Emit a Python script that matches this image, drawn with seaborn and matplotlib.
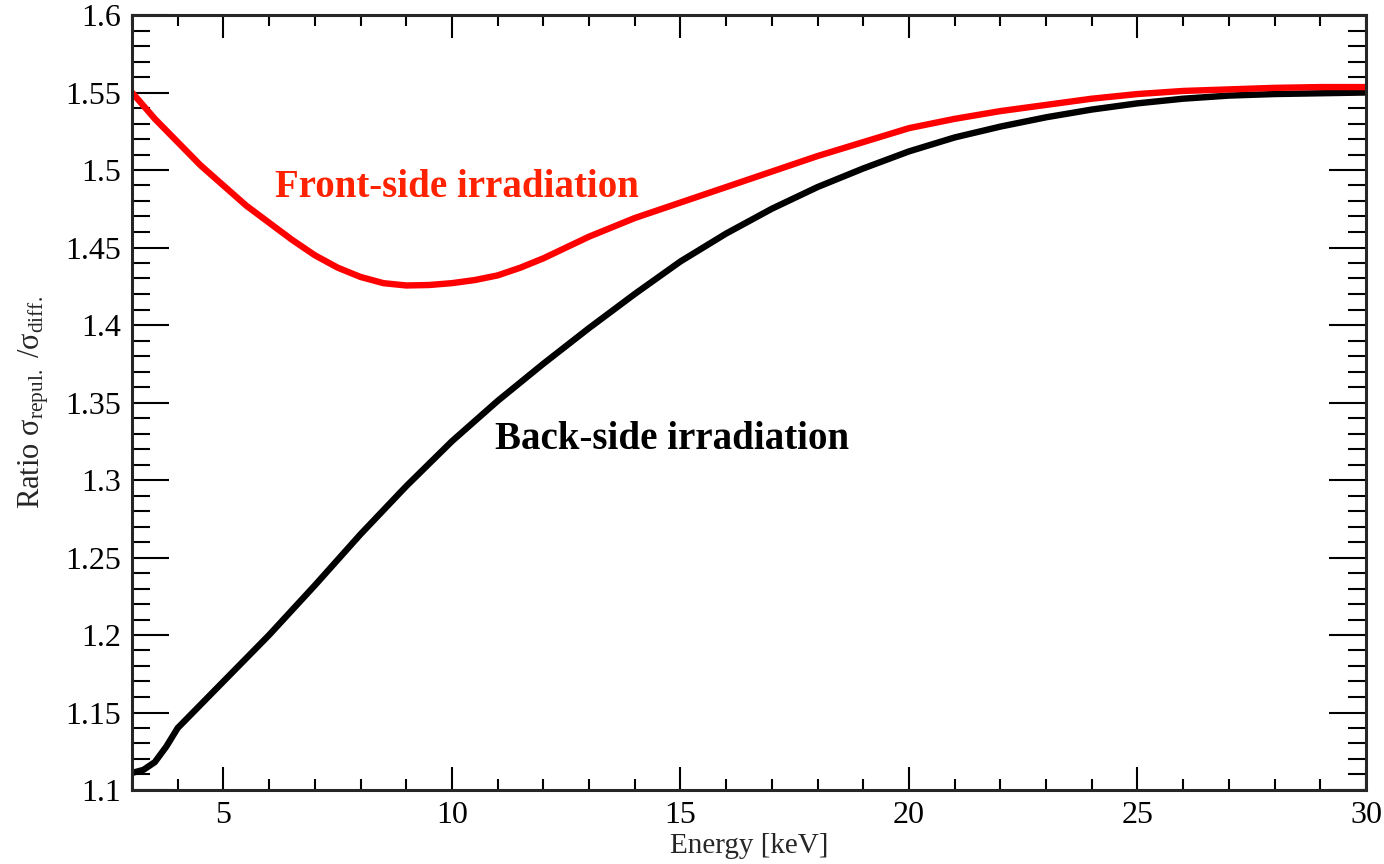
import matplotlib
matplotlib.use("Agg")
from matplotlib import pyplot as plt
from matplotlib.ticker import MultipleLocator
import seaborn as sns
import pandas as pd

# energy grid [keV] and ratios
energy_back = [3, 3.25, 3.5, 3.75, 4, 4.5, 5, 6, 7, 8, 9, 10, 11, 12, 13, 14, 15, 16, 17,
               18, 19, 20, 21, 22, 23, 24, 25, 26, 27, 28, 29, 30]
ratio_back = [1.111, 1.113, 1.118, 1.128, 1.140, 1.155, 1.170, 1.200, 1.232, 1.265,
              1.296, 1.325, 1.351, 1.375, 1.398, 1.420, 1.441, 1.459, 1.475, 1.489,
              1.501, 1.512, 1.521, 1.528, 1.534, 1.539, 1.543, 1.546, 1.548, 1.549,
              1.5495, 1.550]

energy_front = [3, 3.5, 4, 4.5, 5, 5.5, 6, 6.5, 7, 7.5, 8, 8.5, 9, 9.5, 10, 10.5, 11,
                11.5, 12, 12.5, 13, 14, 15, 16, 17, 18, 19, 20, 21, 22, 23, 24, 25,
                26, 27, 28, 29, 30]
ratio_front = [1.550, 1.533, 1.518, 1.503, 1.490, 1.477, 1.466, 1.455, 1.445, 1.437,
               1.431, 1.427, 1.4255, 1.4258, 1.427, 1.429, 1.432, 1.437, 1.443, 1.450,
               1.457, 1.469, 1.479, 1.489, 1.499, 1.509, 1.518, 1.527, 1.533, 1.538,
               1.542, 1.546, 1.549, 1.551, 1.552, 1.553, 1.5535, 1.5535]

df = pd.concat([
    pd.DataFrame({"Energy": energy_back, "Ratio": ratio_back, "side": "Back-side irradiation"}),
    pd.DataFrame({"Energy": energy_front, "Ratio": ratio_front, "side": "Front-side irradiation"}),
])

sns.set_style("ticks")
plt.rcParams["font.family"] = ["Liberation Serif", "DejaVu Serif"]
plt.rcParams["mathtext.fontset"] = "custom"
plt.rcParams["mathtext.rm"] = "Liberation Serif"
plt.rcParams["mathtext.it"] = "Liberation Serif:italic"

fig = plt.figure(figsize=(13.84, 8.64), dpi=100)
ax = fig.add_axes([132 / 1384, 74 / 864, 1234 / 1384, 775 / 864])

palette = {"Back-side irradiation": "black", "Front-side irradiation": "#ff0000"}
sns.lineplot(data=df, x="Energy", y="Ratio", hue="side", palette=palette,
             linewidth=4.6, legend=False, ax=ax)
for ln in ax.lines:
    ln.set_solid_joinstyle("round")

ax.set_xlim(3, 30)
ax.set_ylim(1.1, 1.6)
ax.xaxis.set_minor_locator(MultipleLocator(1))
ax.yaxis.set_minor_locator(MultipleLocator(0.01))
ax.set_xticks([5, 10, 15, 20, 25, 30])
ax.set_xticklabels(["5", "10", "15", "20", "25", "30"])
yt = [1.1, 1.15, 1.2, 1.25, 1.3, 1.35, 1.4, 1.45, 1.5, 1.55, 1.6]
ax.set_yticks(yt)
ax.set_yticklabels(["1.1", "1.15", "1.2", "1.25", "1.3", "1.35", "1.4", "1.45", "1.5", "1.55", "1.6"])

for s in ax.spines.values():
    s.set_visible(True)
    s.set_linewidth(2.2)
ax.tick_params(axis="both", which="both", direction="in", top=True, right=True,
               width=1.5, labelsize=23, colors="black")
ax.tick_params(axis="x", which="major", length=16.5, pad=8)
ax.tick_params(axis="x", which="minor", length=8)
ax.tick_params(axis="y", which="major", length=26.5, pad=8)
ax.tick_params(axis="y", which="minor", length=13)

ax.set_xlabel("Energy [keV]", fontsize=21, labelpad=2)
ax.set_ylabel(r"Ratio σ$_{\mathrm{repul.}}$ /σ$_{\mathrm{diff.}}$", fontsize=22, labelpad=10)

ax.text(6.13, 1.489, "Front-side irradiation", color="#ff2200", fontsize=28,
        fontweight="bold", va="center", ha="left")
ax.text(10.94, 1.326, "Back-side irradiation", color="black", fontsize=28,
        fontweight="bold", va="center", ha="left")

fig.savefig("out.png", dpi=100)
